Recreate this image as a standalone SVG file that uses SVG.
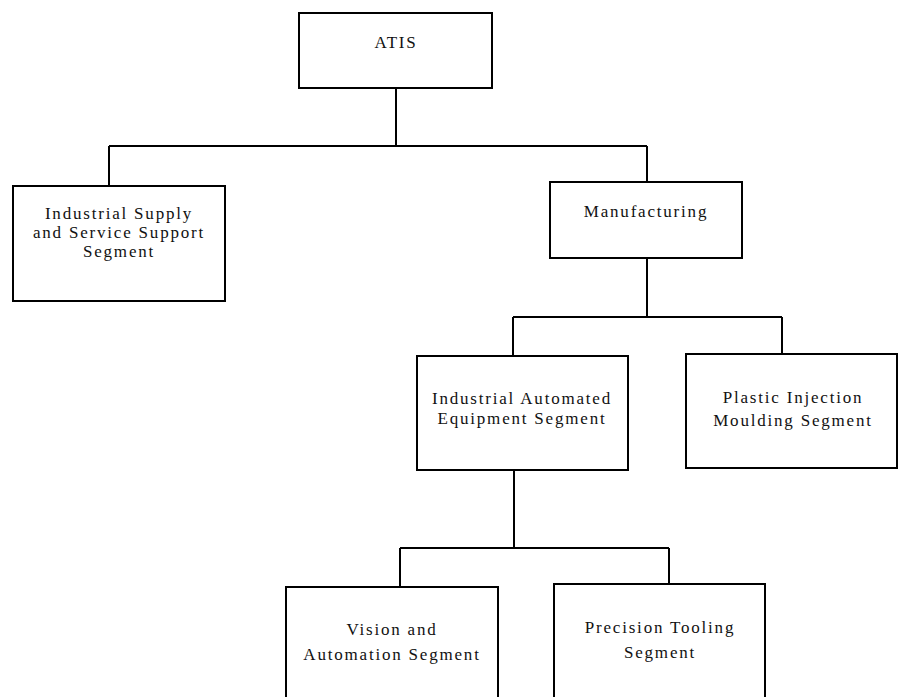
<svg xmlns="http://www.w3.org/2000/svg" width="898" height="697" viewBox="0 0 898 697">
<style>
.box{fill:#fff;stroke:#000;stroke-width:2}
.lbl{font-family:"Liberation Serif","Times New Roman",serif;font-size:17px;letter-spacing:1.8px;fill:#111;text-anchor:middle}
.con{fill:none;stroke:#000;stroke-width:2}
</style>
<rect width="898" height="697" fill="#fff"/>
<g id="connectors">
<path class="con" d="M396,88 V146 M109,146 H647 M109,146 V186 M647,146 V182"/>
<path class="con" d="M647,258 V317 M513,317 H782 M513,317 V356 M782,317 V354"/>
<path class="con" d="M514,470 V548 M400,548 H669 M400,548 V587 M669,548 V584"/>
</g>
<g id="atis">
<rect class="box" x="299" y="13" width="193" height="75"/>
<text class="lbl" x="396" y="48">ATIS</text>
</g>
<g id="industrial-supply">
<rect class="box" x="13" y="186" width="212" height="115"/>
<text class="lbl" x="119" y="219">Industrial Supply</text>
<text class="lbl" x="119" y="238">and Service Support</text>
<text class="lbl" x="119" y="257">Segment</text>
</g>
<g id="manufacturing">
<rect class="box" x="550" y="182" width="192" height="76"/>
<text class="lbl" x="646" y="217">Manufacturing</text>
</g>
<g id="industrial-automated">
<rect class="box" x="417" y="356" width="211" height="114"/>
<text class="lbl" x="522" y="404">Industrial Automated</text>
<text class="lbl" x="522" y="424">Equipment Segment</text>
</g>
<g id="plastic-injection">
<rect class="box" x="686" y="354" width="211" height="114"/>
<text class="lbl" x="793" y="403">Plastic Injection</text>
<text class="lbl" x="793" y="426">Moulding Segment</text>
</g>
<g id="vision">
<rect class="box" x="286" y="587" width="212" height="115"/>
<text class="lbl" x="392" y="635">Vision and</text>
<text class="lbl" x="392" y="660">Automation Segment</text>
</g>
<g id="precision">
<rect class="box" x="554" y="584" width="211" height="118"/>
<text class="lbl" x="660" y="633">Precision Tooling</text>
<text class="lbl" x="660" y="658">Segment</text>
</g>
</svg>
